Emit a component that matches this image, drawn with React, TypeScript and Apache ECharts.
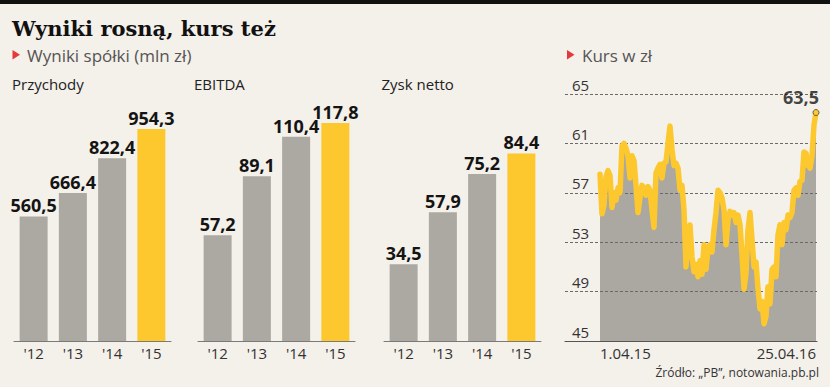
import React, { useEffect, useRef } from "react";
import * as echarts from "echarts";

const TITLE = "Wyniki rosną, kurs też";
const SUBTITLE_LEFT = "Wyniki spółki (mln zł)";
const SUBTITLE_RIGHT = "Kurs w zł";
const SOURCE = "Źródło: „PB”, notowania.pb.pl";

const years = ["'12", "'13", "'14", "'15"];
const panelTitles = ["Przychody", "EBITDA", "Zysk netto"];
const revenue = [560.5, 666.4, 822.4, 954.3];
const ebitda = [57.2, 89.1, 110.4, 117.8];
const netProfit = [34.5, 57.9, 75.2, 84.4];

const priceTicks = [45, 49, 53, 57, 61, 65];
const dateLabels = ["1.04.15", "25.04.16"];
const price = [
  58.5, 55.3, 56.0, 58.3, 58.8, 58.4, 55.8, 57.0, 56.4, 57.4,
  57.0, 60.8, 61.0, 60.6, 60.0, 58.2, 60.0, 59.6, 57.6, 55.4,
  56.6, 57.6, 57.4, 56.8, 57.5, 57.2, 55.6, 54.2, 58.6, 59.0,
  59.3, 58.2, 59.4, 59.5, 61.0, 62.4, 60.5, 59.2, 59.4, 59.0,
  57.2, 57.6, 55.6, 51.0, 53.0, 54.4, 51.8, 50.6, 51.2, 50.2,
  51.5, 50.4, 52.8, 50.8, 52.5, 52.8, 52.2, 54.0, 55.4, 57.2,
  57.0, 56.6, 55.6, 52.8, 54.8, 55.5, 55.2, 55.4, 54.6, 55.2,
  54.4, 52.0, 49.2, 50.5, 54.0, 55.4, 53.2, 51.0, 51.4, 49.2,
  47.6, 48.2, 46.4, 47.0, 49.4, 48.0, 50.8, 51.0, 50.2, 53.6,
  54.4, 52.8, 54.6, 54.0, 55.2, 55.0, 55.4, 57.2, 57.4, 56.8,
  57.9, 58.0, 60.3, 60.2, 59.2, 59.0, 60.0, 62.5, 63.5,
];

const BG = "#f4f0ea";
const GRAY = "#aca8a2";
const YELLOW = "#fcc82e";
const SANS = "Open Sans";

const fmt = (v: number) => v.toFixed(1).replace(".", ",");

export default function App() {
  const ref = useRef<HTMLDivElement>(null);

  useEffect(() => {
    document.body.style.margin = "0";
    document.body.style.background = BG;
    const chart = echarts.init(ref.current!, null, { renderer: "svg" });

    const panels = [revenue, ebitda, netProfit];
    const panelMax = [1080, 129.7, 108];
    const panelLeft = [14, 198, 384];

    const grids: any[] = panelLeft.map((l) => ({ left: l, width: 157, top: 101, bottom: 46 }));
    grids.push({ left: 600, right: 14, top: 94, bottom: 46 });
    grids.push({ left: 565, right: 13, top: 94, bottom: 46 });

    const xAxes: any[] = panelLeft.map((_, i) => ({
      type: "category",
      gridIndex: i,
      data: years,
      axisLine: { lineStyle: { color: "#7a7a7a", width: 1 } },
      axisTick: { show: false },
      axisLabel: { fontFamily: SANS, fontSize: 15, color: "#333", margin: 4 },
    }));
    const yAxes: any[] = panelLeft.map((_, i) => ({
      type: "value",
      gridIndex: i,
      min: 0,
      max: panelMax[i],
      show: false,
    }));

    const lastIdx = price.length - 1;
    xAxes.push({
      type: "category",
      gridIndex: 3,
      data: price.map((_, i) => String(i)),
      boundaryGap: false,
      axisLine: { show: false },
      axisTick: { show: false },
      axisLabel: {
        interval: (i: number) => i === 0 || i === lastIdx,
        formatter: (_v: string, i: number) => (i === 0 ? dateLabels[0] : i === lastIdx ? dateLabels[1] : ""),
        alignMinLabel: "left",
        alignMaxLabel: "right",
        fontFamily: SANS,
        fontSize: 15,
        color: "#333",
        margin: 4,
      },
    });
    yAxes.push({ type: "value", gridIndex: 3, min: 45, max: 65, show: false });

    xAxes.push({
      type: "value",
      gridIndex: 4,
      min: 0,
      max: 1,
      z: 5,
      axisLine: { show: true, lineStyle: { color: "#555", width: 1.2 } },
      axisTick: { show: false },
      axisLabel: { show: false },
      splitLine: { show: false },
    });
    yAxes.push({
      type: "value",
      gridIndex: 4,
      min: 0,
      max: 20,
      interval: 4,
      z: 3,
      axisLine: { show: false },
      axisTick: { show: false },
      splitLine: { show: true, lineStyle: { color: "#6a6a6a", type: [3, 2], width: 1 } },
      axisLabel: {
        inside: true,
        margin: 7,
        verticalAlign: "bottom",
        fontFamily: SANS,
        fontSize: 15,
        color: "#333",
        padding: [0, 0, 2, 0],
        formatter: (v: number) => String(priceTicks[Math.round(v / 4)]),
      },
    });

    const series: any[] = panels.map((vals, p) => ({
      type: "bar",
      xAxisIndex: p,
      yAxisIndex: p,
      barWidth: 28,
      data: vals.map((v, i) => ({
        value: v,
        itemStyle: { color: i === vals.length - 1 ? YELLOW : GRAY },
      })),
      label: {
        show: true,
        position: "top",
        distance: 2,
        formatter: (d: any) => fmt(d.value),
        fontFamily: SANS,
        fontWeight: "bold",
        fontSize: 18,
        color: "#141414",
      },
    }));

    series.push({
      type: "line",
      xAxisIndex: 3,
      yAxisIndex: 3,
      data: price,
      symbol: "none",
      z: 1,
      lineStyle: { width: 0, opacity: 0 },
      areaStyle: { color: "#aba7a1", opacity: 1 },
    });
    series.push({
      type: "line",
      xAxisIndex: 3,
      yAxisIndex: 3,
      data: price,
      symbol: "none",
      z: 4,
      lineStyle: { width: 5.5, color: YELLOW, join: "round", cap: "round" },
    });
    series.push({
      type: "scatter",
      xAxisIndex: 3,
      yAxisIndex: 3,
      z: 6,
      data: [[lastIdx, price[lastIdx]]],
      symbol: "circle",
      symbolSize: 6,
      itemStyle: { color: YELLOW, borderColor: "#444", borderWidth: 1 },
      label: {
        show: true,
        position: "top",
        distance: 3,
        offset: [-15, 0],
        formatter: (d: any) => fmt(d.value[1]),
        fontFamily: SANS,
        fontWeight: "bold",
        fontSize: 18,
        color: "#141414",
      },
    });

    const triangle = (x: number, y: number) => ({
      type: "polygon",
      shape: { points: [[x, y - 4.7], [x + 7.5, y], [x, y + 4.7]] },
      style: { fill: "#e5383b" },
    });

    const graphic: any[] = [
      { type: "rect", shape: { x: 0, y: 0, width: 830, height: 4 }, style: { fill: "#111" } },
      {
        type: "text",
        x: 12,
        y: 28.5,
        style: {
          text: TITLE,
          fontFamily: "DejaVu Serif",
          fontWeight: "bold",
          fontSize: 21,
          fill: "#111",
          verticalAlign: "middle",
        },
      },
      triangle(12.5, 54.7),
      {
        type: "text",
        x: 27,
        y: 55,
        style: { text: SUBTITLE_LEFT, fontFamily: SANS, fontSize: 17, fill: "#555", verticalAlign: "middle" },
      },
      triangle(567, 54.7),
      {
        type: "text",
        x: 582,
        y: 55,
        style: { text: SUBTITLE_RIGHT, fontFamily: SANS, fontSize: 17, fill: "#555", verticalAlign: "middle" },
      },
      ...panelTitles.map((t, i) => ({
        type: "text",
        x: [12, 194, 381.5][i],
        y: 83.5,
        style: { text: t, fontFamily: SANS, fontSize: 15, fill: "#222", verticalAlign: "middle" },
      })),
      {
        type: "text",
        x: 819,
        y: 372,
        style: {
          text: SOURCE,
          fontFamily: SANS,
          fontSize: 12,
          fill: "#333",
          align: "right",
          verticalAlign: "middle",
        },
      },
    ];

    chart.setOption({
      animation: false,
      backgroundColor: BG,
      grid: grids,
      xAxis: xAxes,
      yAxis: yAxes,
      series,
      graphic,
    });

    return () => chart.dispose();
  }, []);

  return <div ref={ref} style={{ width: 830, height: 387 }} />;
}
